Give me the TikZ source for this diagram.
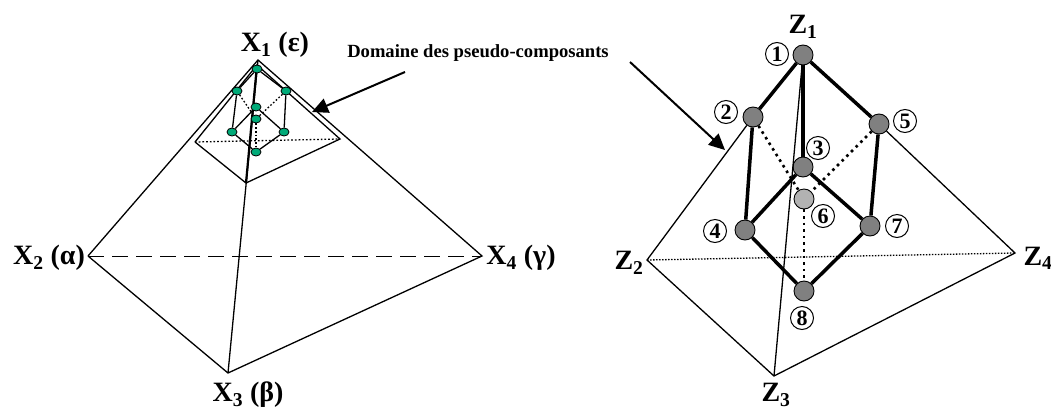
\documentclass[tikz,border=0pt]{standalone}
\usepackage{fontspec}
\setmainfont{Liberation Serif}
\usepackage{tikz}
\usetikzlibrary{arrows.meta, positioning, shapes.geometric}

\definecolor{pointgreen}{RGB}{0,170,120}
\tikzset{
    vertexlabel/.style={font=\fontsize{28}{28}\selectfont\bfseries, inner sep=0pt},
    greennode/.style={ellipse, draw, fill=pointgreen, minimum width=10pt, minimum height=8pt, inner sep=0pt, line width=0.8pt},
    graynode/.style={circle, draw, fill=gray, minimum size=20pt, inner sep=0pt, line width=0.9pt},
    numlabel/.style={circle, draw, minimum size=23pt, inner sep=0pt, line width=1pt, font=\fontsize{22}{22}\selectfont\bfseries},
    thinedge/.style={line width=1.3pt},
    thickedge/.style={line width=3.5pt},
    dotedge/.style={line width=2.6pt, dash pattern=on 2.6pt off 4pt},
    smalldot/.style={line width=1.3pt, dash pattern=on 1.7pt off 2pt},
    bigarrow/.style={line width=2pt, -{Triangle[length=16pt, width=15pt]}}
}

\begin{document}
\begin{tikzpicture}[x=1pt, y=-1pt]
\useasboundingbox (0,0) rectangle (1051,410);
% left pyramid
\coordinate (X1) at (258,60);
\coordinate (X2) at (88,256);
\coordinate (X3) at (228,373);
\coordinate (X4) at (482,256);
\coordinate (I1) at (257,65);
\coordinate (I2) at (195,142);
\coordinate (I3) at (246,183);
\coordinate (I4) at (340,139);
\draw[thinedge] (X2) -- (X1) -- (X4) -- (X3) -- (X2);
\draw[thinedge] (X1) -- (X3);
\draw[line width=1pt, dash pattern=on 16pt off 8pt] (X2) -- (X4);
\draw[thinedge] (I2) -- (I1) -- (I4) -- (I3) -- (I2);
\draw[smalldot] (I2) -- (I4);
\draw[line width=2.2pt] (I1) -- (I3);
% small nodes
\node[greennode] (a1) at (257,69) {};
\node[greennode] (a2) at (237,91) {};
\node[greennode] (a3) at (256,107) {};
\node[greennode] (a4) at (232,132) {};
\node[greennode] (a5) at (286,91) {};
\node[greennode] (a6) at (256,119) {};
\node[greennode] (a7) at (284,132) {};
\node[greennode] (a8) at (256,152) {};
\draw[thinedge] (a1) -- (a2);
\draw[thinedge] (a1) -- (a5);
\draw[thinedge] (a2) -- (a4);
\draw[thinedge] (a5) -- (a7);
\draw[thinedge] (a3) -- (a4);
\draw[thinedge] (a3) -- (a7);
\draw[thinedge] (a4) -- (a8);
\draw[thinedge] (a7) -- (a8);
\draw[smalldot] (a2) -- (a6);
\draw[smalldot] (a5) -- (a6);
\draw[smalldot] (a6) -- (a8);
\node[vertexlabel] (x1) at (275,45) {X\textsubscript{1} (ε)};
\node[vertexlabel] (x2) at (49,258) {X\textsubscript{2} (α)};
\node[vertexlabel] (x3) at (248,395) {X\textsubscript{3} (β)};
\node[vertexlabel] (x4) at (521,258) {X\textsubscript{4} (γ)};
% right pyramid
\coordinate (Z2) at (647,260);
\coordinate (Z3) at (774,376);
\coordinate (Z4) at (1015,253);
\node[graynode] (n1) at (803,55) {};
\node[graynode] (n2) at (753,117) {};
\node[graynode] (n3) at (803,167) {};
\node[graynode] (n4) at (745,230) {};
\node[graynode] (n5) at (879,124) {};
\node[graynode, fill=gray!60] (n6) at (804,199) {};
\node[graynode] (n7) at (870,226) {};
\node[graynode] (n8) at (804,291) {};
\draw[thinedge] (n2) -- (Z2) -- (Z3) -- (Z4) -- (n5);
\draw[thinedge] (n1) -- (Z3);
\draw[line width=1.3pt, dash pattern=on 1.5pt off 1.5pt] (Z2) -- (Z4);
\draw[thickedge] (n1) -- (n2);
\draw[thickedge] (n1) -- (n3);
\draw[thickedge] (n1) -- (n5);
\draw[thickedge] (n2) -- (n4);
\draw[thickedge] (n3) -- (n4);
\draw[thickedge] (n3) -- (n7);
\draw[thickedge] (n5) -- (n7);
\draw[thickedge] (n4) -- (n8);
\draw[thickedge] (n7) -- (n8);
\draw[dotedge] (n2) -- (n6);
\draw[dotedge] (n5) -- (n6);
\draw[dotedge] (n6) -- (n8);
\node[numlabel] (c1) at (777,54) {1};
\node[numlabel] (c2) at (726,112) {2};
\node[numlabel] (c3) at (818,148) {3};
\node[numlabel] (c4) at (715,231) {4};
\node[numlabel] (c5) at (905,121) {5};
\node[numlabel] (c6) at (823,216) {6};
\node[numlabel] (c7) at (897,226) {7};
\node[numlabel] (c8) at (802,318) {8};
\node[vertexlabel] (z1) at (803,27) {Z\textsubscript{1}};
\node[vertexlabel] (z2) at (629,263) {Z\textsubscript{2}};
\node[vertexlabel] (z3) at (776,395) {Z\textsubscript{3}};
\node[vertexlabel] (z4) at (1038,258) {Z\textsubscript{4}};
% title and arrows
\node[font=\fontsize{18.6}{18.6}\selectfont\bfseries, inner sep=0pt] (dom) at (478,53) {Domaine des pseudo-composants};
\coordinate (a) at (405,72);
\coordinate (b) at (312,112);
\coordinate (c) at (630,62);
\coordinate (d) at (725,150);
\draw[bigarrow] (a) -- (b);
\draw[bigarrow] (c) -- (d);
\end{tikzpicture}
\end{document}
